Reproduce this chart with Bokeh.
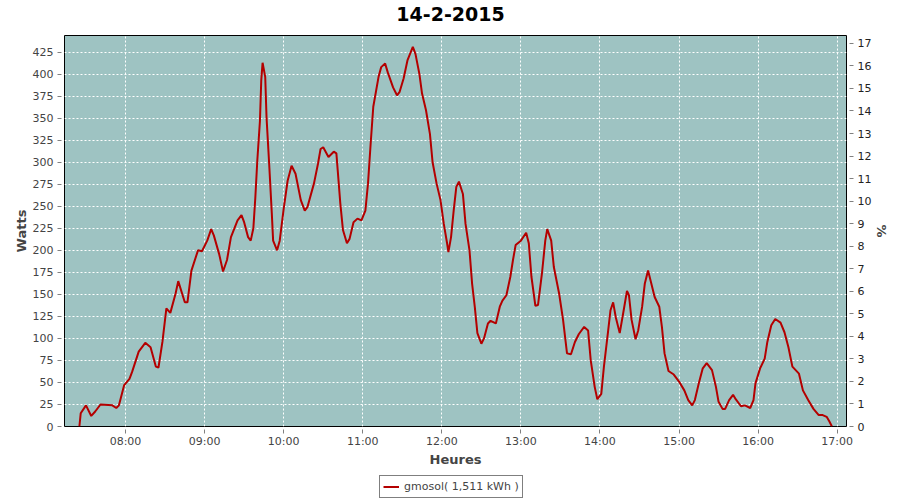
import pandas as pd
from bokeh.plotting import figure
from bokeh.layouts import column
from bokeh.models import (Range1d, LinearAxis, FixedTicker, DatetimeTickFormatter,
                          Legend, LegendItem, Label)
from bokeh.embed import file_html
from bokeh.resources import INLINE

# ---------------- data ----------------
day = "2015-02-14"
chart_title = "14-2-2015"
series_label = "gmosol( 1,511 kWh )"

times = ["07:25", "07:26", "07:30", "07:34", "07:37", "07:41", "07:50", "07:53", "07:55", "07:59",
         "08:03", "08:05", "08:10", "08:15", "08:19", "08:23", "08:25", "08:28", "08:31", "08:34",
         "08:38", "08:40", "08:45", "08:47", "08:50", "08:55", "08:58", "09:02", "09:05", "09:07",
         "09:11", "09:14", "09:17", "09:20", "09:25", "09:28", "09:30", "09:33", "09:35", "09:37",
         "09:38:30", "09:40", "09:42", "09:43", "09:44", "09:46", "09:47", "09:49", "09:51", "09:52",
         "09:55", "09:57", "10:00", "10:03", "10:06", "10:09", "10:13", "10:16", "10:18", "10:23",
         "10:26", "10:28", "10:30", "10:34", "10:38", "10:40", "10:41", "10:43", "10:45", "10:48",
         "10:50", "10:53", "10:56", "10:59", "11:02", "11:04", "11:06", "11:08", "11:12", "11:14",
         "11:17", "11:19", "11:23", "11:26", "11:28", "11:31", "11:34", "11:38", "11:40", "11:43",
         "11:45", "11:48", "11:51", "11:53", "11:56", "11:59", "12:01:30", "12:04", "12:05", "12:07",
         "12:09", "12:11", "12:13", "12:16", "12:18", "12:21", "12:23", "12:25", "12:27", "12:30",
         "12:32", "12:35", "12:37", "12:41", "12:44", "12:46", "12:49", "12:52", "12:54", "12:56",
         "13:00", "13:04", "13:06", "13:08", "13:11", "13:13", "13:16", "13:18:30", "13:20", "13:23",
         "13:25", "13:29", "13:32", "13:35", "13:38", "13:41", "13:44", "13:48", "13:51", "13:53",
         "13:56", "13:58", "14:01", "14:03", "14:06", "14:08", "14:10", "14:12", "14:15", "14:18",
         "14:20:30", "14:22", "14:24", "14:27", "14:29", "14:32", "14:34", "14:36:30", "14:39", "14:41:30",
         "14:45", "14:47", "14:49", "14:52", "14:56", "15:00", "15:04", "15:07", "15:10", "15:12",
         "15:15", "15:18", "15:21", "15:25", "15:28", "15:30", "15:33", "15:35", "15:38", "15:41",
         "15:43", "15:47", "15:50", "15:54", "15:56:30", "15:58", "16:01:30", "16:05", "16:07", "16:10",
         "16:13", "16:17", "16:20", "16:23", "16:26", "16:31", "16:34", "16:38", "16:42", "16:46",
         "16:49", "16:52", "16:54", "16:56"]

watts = [0, 15, 24, 12, 17, 25, 24, 21, 24, 47,
         54, 62, 85, 95, 90, 68, 67, 96, 134, 129,
         151, 165, 141, 141, 177, 200, 199, 211, 224, 217,
         196, 176, 189, 215, 234, 240, 232, 215, 211, 225,
         260, 302, 347, 393, 413, 397, 351, 298, 242, 211,
         200, 211, 247, 279, 296, 287, 257, 245, 249, 276,
         298, 315, 317, 306, 312, 310, 291, 253, 223, 208,
         213, 232, 236, 234, 245, 276, 321, 363, 397, 408,
         412, 402, 385, 376, 380, 395, 416, 431, 423, 400,
         378, 359, 332, 300, 276, 257, 230, 208, 198, 215,
         245, 272, 278, 264, 230, 200, 162, 136, 106, 94,
         100, 117, 120, 117, 136, 143, 149, 170, 189, 206,
         211, 220, 208, 170, 137, 138, 174, 211, 224, 211,
         181, 151, 121, 83, 82, 96, 105, 113, 109, 75,
         45, 31, 37, 68, 106, 132, 141, 124, 106, 132,
         154, 149, 121, 99, 109, 136, 162, 177, 162, 147,
         136, 113, 83, 63, 59, 51, 41, 30, 24, 30,
         49, 66, 72, 64, 45, 28, 20, 20, 30, 36,
         31, 23, 24, 21, 30, 49, 66, 77, 96, 115,
         122, 118, 107, 90, 68, 60, 41, 30, 20, 13,
         13, 11, 6, 0]

hour_ticks = ["08:00", "09:00", "10:00", "11:00", "12:00", "13:00",
              "14:00", "15:00", "16:00", "17:00"]
watt_ticks = [0, 25, 50, 75, 100, 125, 150, 175, 200, 225, 250, 275,
              300, 325, 350, 375, 400, 425]
pct_ticks = list(range(0, 18))

# ---------------- helpers ----------------
def ts(s):
    if len(s) == 5:
        s = s + ":00"
    return pd.Timestamp(f"{day} {s}")

def ms(t):
    return (t - pd.Timestamp("1970-01-01")) // pd.Timedelta(milliseconds=1)

t = [ts(s) for s in times]
hour_ms = [ms(ts(h)) for h in hour_ticks]

FONT = "DejaVu Sans"
LINE_COLOR = "#b40000"
FRAME_LEFT = 64   # strips share the chart's frame alignment

def strip_fig(height):
    f = figure(width=900, height=height, x_range=Range1d(0, 1), y_range=Range1d(0, 1),
               x_axis_type=None, y_axis_type=None, output_backend="svg",
               toolbar_location=None, min_border=0)
    f.outline_line_color = None
    f.background_fill_color = "white"
    f.border_fill_color = "white"
    return f

# ---------------- title strip ----------------
title_fig = strip_fig(27)
title_fig.add_layout(Label(x=450 - FRAME_LEFT, y=14, x_units="screen", y_units="screen",
                           text=chart_title, text_align="center", text_baseline="middle",
                           text_font=FONT, text_font_size="19px", text_font_style="bold",
                           text_color="black"))

# ---------------- main chart ----------------
p = figure(frame_width=782, frame_height=391, x_axis_type="datetime",
           x_range=Range1d(start=ts("07:13:42"), end=ts("17:07:04")),
           y_range=Range1d(0, 443.9),
           output_backend="svg", toolbar_location=None,
           min_border_left=FRAME_LEFT, min_border_right=54,
           min_border_top=8, min_border_bottom=48)

p.extra_y_ranges = {"pct": Range1d(0, 17.35)}

p.background_fill_color = "#9ec3c2"
p.border_fill_color = "white"
p.outline_line_color = "black"
p.outline_line_width = 1

r = p.line(t, watts, line_color=LINE_COLOR, line_width=2)

xa = p.xaxis[0]
xa.ticker = FixedTicker(ticks=hour_ms)
xa.formatter = DatetimeTickFormatter(hours="%H:%M", hourmin="%H:%M", minutes="%H:%M",
                                     minsec="%H:%M", days="%H:%M")
xa.axis_label = "Heures"

ya = p.yaxis[0]
ya.ticker = FixedTicker(ticks=watt_ticks)
ya.axis_label = "Watts"

ra = LinearAxis(y_range_name="pct", ticker=FixedTicker(ticks=pct_ticks), axis_label="%")
p.add_layout(ra, "right")

for ax in (xa, ya, ra):
    ax.axis_line_color = None
    ax.major_tick_line_color = "#808080"
    ax.major_tick_out = 7
    ax.major_tick_in = -3
    ax.minor_tick_line_color = None
    ax.major_label_text_font = FONT
    ax.major_label_text_font_size = "11px"
    ax.major_label_text_color = "#444444"
    ax.major_label_standoff = 4
    ax.axis_label_text_font = FONT
    ax.axis_label_text_font_size = "13px"
    ax.axis_label_text_font_style = "bold"
    ax.axis_label_text_color = "#444444"
    ax.axis_label_standoff = 1
ra.major_label_text_color = "#222222"
ra.axis_label_standoff = 0
xa.major_label_standoff = 1

p.xgrid.ticker = FixedTicker(ticks=hour_ms)
p.ygrid.ticker = FixedTicker(ticks=watt_ticks)
for g in (p.xgrid, p.ygrid):
    g.grid_line_color = "white"
    g.grid_line_dash = "2 2"
    g.grid_line_width = 1
    g.grid_line_alpha = 1

# ---------------- legend strip ----------------
legend_fig = strip_fig(26)
# same series, drawn outside this strip's visible range: only feeds the legend swatch
proxy = legend_fig.line(t, watts, line_color=LINE_COLOR, line_width=2)
legend = Legend(items=[LegendItem(label=series_label, renderers=[proxy])],
                location=(379 - FRAME_LEFT, 2), orientation="horizontal")
legend.label_text_font = FONT
legend.label_text_font_size = "11px"
legend.label_text_color = "#444444"
legend.border_line_color = "black"
legend.border_line_width = 1
legend.background_fill_color = "white"
legend.background_fill_alpha = 1
legend.padding = 3
legend.margin = 0
legend.glyph_width = 16
legend.glyph_height = 15
legend.label_height = 15
legend.label_standoff = 5
legend.spacing = 0
legend_fig.add_layout(legend, "center")

layout = column(title_fig, p, legend_fig, spacing=0)

open("out.html", "w").write(file_html(layout, INLINE))
